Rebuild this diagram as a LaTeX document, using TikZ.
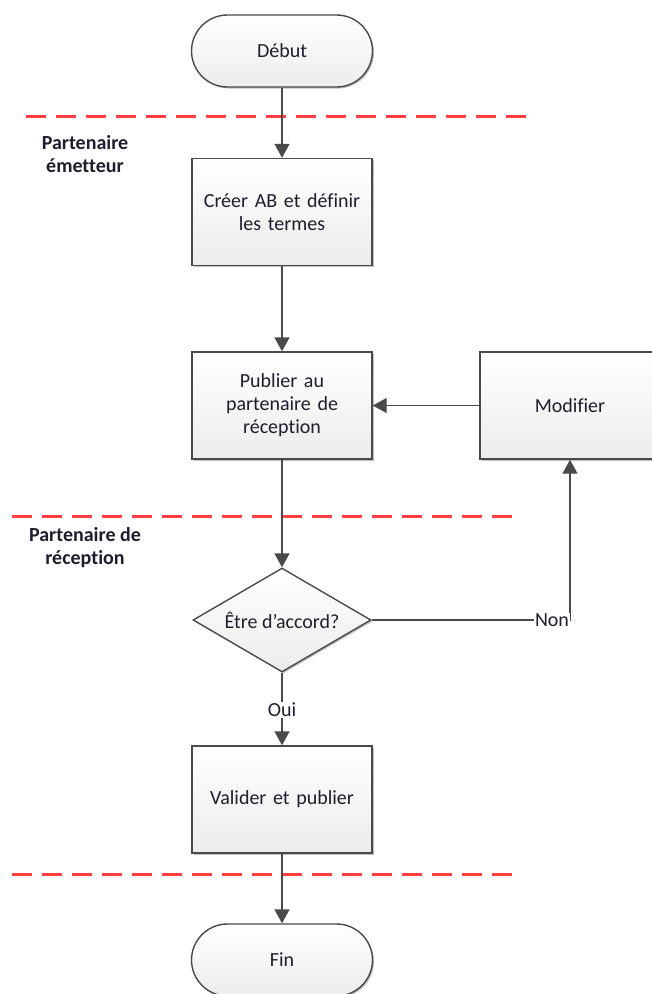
\documentclass[tikz,border=0pt]{standalone}
\usepackage{fontspec}
\setmainfont{Carlito}[RawFeature={-liga;-clig;-calt;-dlig}]
\usetikzlibrary{shapes.geometric,arrows.meta,shadows}
\definecolor{linec}{HTML}{4A4A4A}
\definecolor{redd}{HTML}{FF4040}
\definecolor{txtc}{HTML}{1E1E2E}
\definecolor{fillb}{HTML}{ECECEC}
\tikzset{
  base/.style={draw=linec, line width=1.4pt, top color=white, bottom color=fillb,
    drop shadow={shadow xshift=1.5pt, shadow yshift=-1.5pt, opacity=0.25, fill=black},
    text=txtc, font=\fontsize{20}{23}\selectfont, align=center, inner sep=0pt},
  procbox/.style={base, rectangle, minimum width=180pt, minimum height=107pt, text width=170pt},
  termbox/.style={base, rectangle, rounded corners=36pt, minimum width=181pt, minimum height=72pt},
  decbox/.style={base, diamond, minimum width=178pt, minimum height=104pt, aspect=1.71},
  sep/.style={draw=redd, line width=3pt, dash pattern=on 20pt off 10pt},
  conn/.style={draw=linec, line width=1.4pt, -{Triangle[length=14pt,width=15pt]}},
  lane/.style={font=\bfseries\fontsize{20}{23}\selectfont, text=txtc, align=center, inner sep=0pt},
  lbl/.style={font=\fontsize{20}{23}\selectfont, text=txtc, fill=white, inner sep=1pt}
}
\begin{document}
\begin{tikzpicture}[x=1pt,y=-1pt]
\useasboundingbox (0,0) rectangle (652,994);
\clip (0,0) rectangle (652,994);
% separators
\coordinate (s1a) at (26,116); \coordinate (s1b) at (532,116);
\coordinate (s2a) at (12,516); \coordinate (s2b) at (518,516);
\coordinate (s3a) at (12,874); \coordinate (s3b) at (520,874);
\path[sep] (s1a) -- (s1b);
\path[sep] (s2a) -- (s2b);
\path[sep] (s3a) -- (s3b);
% lane labels
\node[lane] (lane1) at (85,154.5) {Partenaire\\émetteur};
\node[lane] (lane2) at (85,547.5) {Partenaire de\\réception};
% nodes
\node[termbox] (debut) at (282,51) {Début};
\node[procbox] (creer) at (282,212) {Créer AB et définir\\les termes};
\node[procbox] (publier) at (282,405.5) {Publier au\\partenaire de\\réception};
\node[procbox] (modif) at (570,405.5) {Modifier};
\node[decbox] (accord) at (282,620) {Être d’accord?};
\node[procbox] (valider) at (282,799.5) {Valider et publier};
\node[termbox] (fin) at (282,960) {Fin};
% connectors
\path[conn] (debut) -- (creer);
\path[conn] (creer) -- (publier);
\path[conn] (modif) -- (publier);
\path[conn] (publier) -- (accord);
\coordinate (corner) at (570,620);
\path[conn] (accord.east) -- (corner) -- (modif.south);
\node[lbl] (non) at (552,620) {Non};
\path[conn] (accord) -- (valider);
\node[lbl] (oui) at (282,710) {Oui};
\path[conn] (valider) -- (fin);
\end{tikzpicture}
\end{document}
